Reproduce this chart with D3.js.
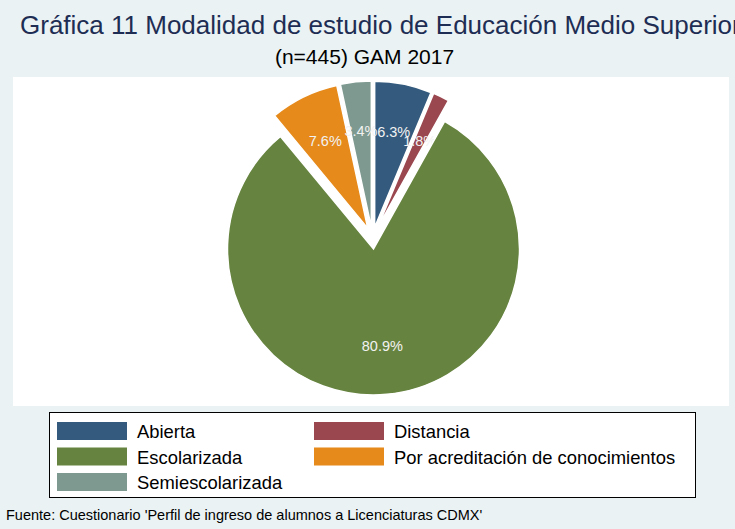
<!DOCTYPE html>
<html><head><meta charset="utf-8">
<script src="https://cdn.jsdelivr.net/npm/d3@7/dist/d3.min.js"></script>
<style>body{margin:0;background:#eaf2f3;}svg{display:block;}</style>
</head><body><svg id="c" width="735" height="529"></svg>
<script>
const categories = ["Abierta","Distancia","Escolarizada","Por acreditación de conocimientos","Semiescolarizada"];
const values = [6.3, 1.8, 80.9, 7.6, 3.4];
const colors = ["#345b7e","#9a474f","#66843f","#e68a1b","#7e9a90"];
const labels = ["6.3%","1.8%","80.9%","7.6%","3.4%"];

const svg = d3.select("#c");
const font = "'Liberation Sans', Arial, sans-serif";
svg.append("rect").attr("width",735).attr("height",529).attr("fill","#eaf2f3");
svg.append("rect").attr("x",13).attr("y",77).attr("width",716).attr("height",329).attr("fill","#ffffff");

svg.append("text").attr("x",20).attr("y",34).attr("font-family",font).attr("font-size",26)
  .attr("fill","#1e2d53").text("Gráfica 11 Modalidad de estudio de Educación Medio Superior");
svg.append("text").attr("x",364.5).attr("y",64).attr("text-anchor","middle").attr("font-family",font)
  .attr("font-size",21).attr("fill","#000").text("(n=445) GAM 2017");

const cx = 372.5, cy = 238, r = 146, explode = 11, rLab = 97;
const data = categories.map((c,i)=>({cat:c, v:values[i], col:colors[i], lab:labels[i]}));
const pie = d3.pie().sort(null).value(d=>d.v).startAngle(0).endAngle(2*Math.PI);
const arc = d3.arc().innerRadius(0).outerRadius(r);
const arcs = pie(data);
const g = svg.append("g").attr("transform",`translate(${cx},${cy})`);
const sl = g.selectAll("g.s").data(arcs).join("g").attr("class","s")
  .attr("transform", d=>{const m=(d.startAngle+d.endAngle)/2; return `translate(${Math.sin(m)*explode},${-Math.cos(m)*explode})`;});
sl.append("path").attr("d",arc).attr("fill",d=>d.data.col).attr("stroke","#ffffff").attr("stroke-width",1.5);
sl.append("text").attr("x",d=>{const m=(d.startAngle+d.endAngle)/2; return Math.sin(m)*rLab;})
  .attr("y",d=>{const m=(d.startAngle+d.endAngle)/2; return -Math.cos(m)*rLab;})
  .attr("text-anchor","middle").attr("dominant-baseline","central").attr("font-family",font)
  .attr("font-size",14.5).attr("fill","#f2f2f2").text(d=>d.data.lab);

// legend
svg.append("rect").attr("x",49.5).attr("y",412.5).attr("width",646).attr("height",85)
  .attr("fill","#ffffff").attr("stroke","#000").attr("stroke-width",1);
const colX = [57, 314], rowY = [422, 447.5, 473];
const lg = svg.selectAll("g.l").data(data).join("g").attr("class","l")
  .attr("transform",(d,i)=>`translate(${colX[i%2]},${rowY[Math.floor(i/2)]})`);
lg.append("rect").attr("width",70).attr("height",18).attr("fill",d=>d.col);
lg.append("text").attr("x",80).attr("y",16).attr("font-family",font).attr("font-size",18.4)
  .attr("fill","#000").text(d=>d.cat);

svg.append("text").attr("x",6).attr("y",520).attr("font-family",font).attr("font-size",14.5)
  .attr("fill","#000").text("Fuente: Cuestionario 'Perfil de ingreso de alumnos a Licenciaturas CDMX'");
</script></body></html>
